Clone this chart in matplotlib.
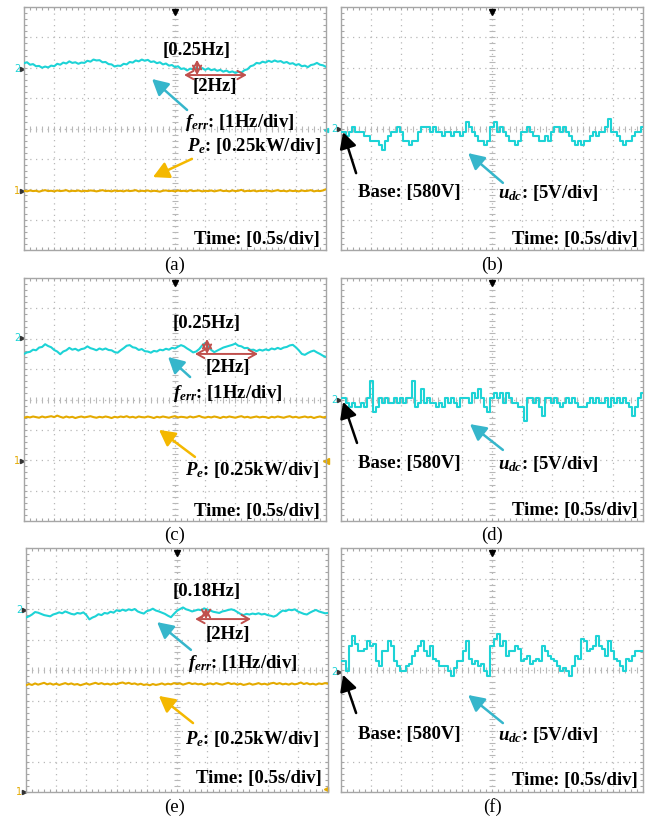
import matplotlib
matplotlib.use('Agg')
import matplotlib.pyplot as plt
import numpy as np

plt.rcParams['font.family'] = ['Liberation Serif', 'DejaVu Serif']
plt.rcParams['mathtext.fontset'] = 'custom'
plt.rcParams['mathtext.it'] = 'Liberation Serif:italic:bold'
plt.rcParams['mathtext.rm'] = 'Liberation Serif:bold'
plt.rcParams['mathtext.bf'] = 'Liberation Serif:bold'

# Traces, in screen divisions (0..8 from bottom), sampled evenly across 10 div
ferr_a = [6.15, 6.18, 6.10, 6.12, 6.05, 6.06, 6.00, 6.04, 6.01, 6.07,
          6.05, 6.13, 6.10, 6.17, 6.14, 6.21, 6.16, 6.18, 6.13, 6.17,
          6.16, 6.23, 6.20, 6.27, 6.24, 6.25, 6.18, 6.19, 6.12, 6.11,
          6.04, 6.07, 6.06, 6.13, 6.11, 6.19, 6.17, 6.24, 6.21, 6.27,
          6.23, 6.26, 6.19, 6.21, 6.15, 6.18, 6.11, 6.14, 6.07, 6.09,
          6.02, 6.05, 5.96, 5.98, 5.91, 5.97, 5.95, 6.00, 5.95, 5.99,
          5.93, 5.98, 5.92, 5.95, 5.90, 5.93, 5.87, 5.91, 5.85, 5.88,
          5.83, 5.87, 5.84, 5.92, 5.95, 6.05, 6.08, 6.16, 6.14, 6.20,
          6.17, 6.23, 6.19, 6.24, 6.20, 6.22, 6.16, 6.19, 6.13, 6.15,
          6.09, 6.12, 6.05, 6.07, 6.02, 6.09, 6.11, 6.16, 6.10, 6.08, 6.03]
pe_a = [1.95, 1.93, 1.96, 1.94, 1.95, 1.92, 1.95, 1.97, 1.94, 1.95,
        1.93, 1.96, 1.94, 1.95, 1.97, 1.93, 1.95, 1.94, 1.96, 1.93,
        1.95, 1.94, 1.96, 1.95, 1.93, 1.95, 1.97, 1.94, 1.95, 1.93,
        1.96, 1.94, 1.95, 1.93, 1.96, 1.94, 1.95, 1.97, 1.93, 1.95,
        1.94, 1.96, 1.93, 1.95, 1.94, 1.92, 1.95, 1.96, 1.94, 1.95,
        1.93, 1.96, 1.94, 1.95, 1.93, 1.97, 1.94, 1.95, 1.96, 1.93,
        1.95, 1.94, 1.96, 1.93, 1.95, 1.97, 1.94, 1.95, 1.93, 1.96,
        1.94, 1.95, 1.98, 1.93, 1.95, 1.94, 1.96, 1.93, 1.95, 1.94,
        1.96, 1.95, 1.93, 1.95, 1.97, 1.94, 1.95, 1.93, 1.96, 1.94,
        1.95, 1.93, 1.96, 1.94, 1.95, 1.97, 1.93, 1.95, 1.94, 1.96, 2.00]
udc_b = [3.9, 3.9, 3.75, 3.9, 4.05, 3.9, 3.9, 3.9, 3.75, 3.75,
         3.6, 3.6, 3.6, 3.45, 3.3, 3.6, 3.75, 3.9, 3.9, 4.05,
         3.9, 3.6, 3.6, 3.45, 3.6, 3.6, 3.9, 4.05, 4.05, 4.05,
         3.9, 4.05, 3.9, 3.9, 3.75, 3.9, 3.9, 3.75, 3.9, 3.9,
         3.75, 3.9, 4.2, 4.05, 3.9, 3.75, 3.6, 3.6, 3.45, 3.6,
         4.05, 4.2, 3.9, 4.05, 3.9, 3.75, 3.6, 3.6, 3.45, 3.6,
         3.9, 3.9, 4.05, 3.9, 3.75, 3.75, 3.6, 3.6, 3.75, 3.6,
         3.9, 4.05, 4.05, 3.9, 4.05, 3.9, 3.75, 3.6, 3.45, 3.6,
         3.45, 3.6, 3.6, 3.75, 3.9, 3.75, 3.9, 3.9, 4.05, 4.3,
         3.9, 3.9, 3.75, 3.6, 3.45, 3.6, 3.6, 3.75, 3.9, 3.9, 4.05]
ferr_c = [5.50, 5.55, 5.57, 5.64, 5.62, 5.71, 5.73, 5.82, 5.76, 5.72,
          5.63, 5.58, 5.49, 5.58, 5.62, 5.70, 5.64, 5.67, 5.61, 5.66,
          5.68, 5.75, 5.69, 5.66, 5.62, 5.68, 5.64, 5.68, 5.63, 5.62,
          5.56, 5.54, 5.62, 5.69, 5.77, 5.79, 5.72, 5.70, 5.63, 5.66,
          5.59, 5.58, 5.54, 5.60, 5.58, 5.64, 5.62, 5.67, 5.64, 5.70,
          5.68, 5.74, 5.79, 5.75, 5.68, 5.62, 5.55, 5.58, 5.66, 5.78,
          5.86, 5.74, 5.63, 5.56, 5.61, 5.66, 5.71, 5.74, 5.77, 5.80,
          5.84, 5.77, 5.75, 5.69, 5.70, 5.63, 5.64, 5.59, 5.64, 5.61,
          5.65, 5.62, 5.68, 5.65, 5.70, 5.66, 5.71, 5.73, 5.78, 5.80,
          5.72, 5.62, 5.50, 5.47, 5.53, 5.58, 5.61, 5.55, 5.50, 5.44, 5.40]
pe_c = [3.40, 3.43, 3.41, 3.44, 3.42, 3.40, 3.44, 3.41, 3.43, 3.45,
        3.42, 3.47, 3.43, 3.40, 3.44, 3.41, 3.43, 3.39, 3.42, 3.44,
        3.41, 3.43, 3.45, 3.42, 3.40, 3.43, 3.41, 3.44, 3.42, 3.39,
        3.43, 3.41, 3.44, 3.42, 3.45, 3.41, 3.43, 3.40, 3.44, 3.42,
        3.41, 3.44, 3.42, 3.39, 3.43, 3.41, 3.44, 3.42, 3.40, 3.43,
        3.45, 3.41, 3.43, 3.42, 3.40, 3.44, 3.41, 3.43, 3.46, 3.42,
        3.40, 3.43, 3.41, 3.44, 3.42, 3.39, 3.43, 3.41, 3.44, 3.42,
        3.40, 3.43, 3.45, 3.41, 3.43, 3.40, 3.42, 3.44, 3.41, 3.43,
        3.42, 3.39, 3.43, 3.41, 3.44, 3.42, 3.40, 3.43, 3.45, 3.41,
        3.43, 3.40, 3.42, 3.44, 3.41, 3.43, 3.39, 3.42, 3.44, 3.41, 3.43]
udc_d = [4.05, 4.05, 3.9, 3.75, 3.9, 3.75, 3.75, 3.9, 3.75, 4.05,
         4.6, 3.6, 3.75, 4.05, 3.9, 4.05, 3.9, 3.9, 4.05, 3.9,
         4.05, 3.9, 4.05, 4.05, 4.6, 3.75, 3.9, 4.35, 3.9, 4.05,
         3.9, 3.9, 3.75, 3.9, 3.75, 4.05, 3.9, 4.05, 3.9, 3.75,
         4.05, 4.05, 4.05, 3.9, 4.2, 4.05, 4.35, 4.05, 3.75, 3.6,
         4.05, 4.2, 4.05, 4.2, 3.9, 4.2, 4.05, 3.9, 3.9, 3.75,
         3.75, 3.3, 4.05, 4.05, 3.9, 4.05, 3.75, 3.45, 4.05, 4.05,
         3.9, 4.05, 3.9, 3.75, 3.9, 4.05, 3.9, 4.05, 3.9, 3.75,
         3.75, 3.75, 3.9, 4.05, 3.9, 4.05, 3.9, 3.9, 4.05, 3.75,
         4.05, 3.9, 4.05, 3.9, 4.05, 3.9, 3.75, 3.45, 3.75, 4.05, 4.2]
ferr_e = [5.72, 5.76, 5.82, 5.90, 5.88, 5.84, 5.80, 5.78, 5.76, 5.82,
          5.85, 5.89, 5.86, 5.92, 5.88, 5.84, 5.82, 5.87, 5.85, 5.89,
          5.80, 5.66, 5.72, 5.76, 5.83, 5.80, 5.87, 5.85, 5.91, 5.88,
          5.96, 5.93, 5.98, 5.94, 5.99, 5.96, 6.00, 5.92, 5.88, 5.85,
          5.93, 5.96, 6.01, 5.95, 5.92, 5.88, 5.84, 5.78, 5.73, 5.84,
          5.94, 6.00, 6.05, 5.99, 5.96, 5.92, 5.95, 5.98, 5.96, 6.02,
          5.98, 5.95, 5.91, 5.89, 5.87, 5.92, 5.94, 5.97, 5.99, 5.96,
          5.90, 5.84, 5.80, 5.84, 5.82, 5.85, 5.83, 5.86, 5.82, 5.84,
          5.80, 5.78, 5.75, 5.79, 5.88, 5.95, 5.93, 5.98, 5.96, 5.99,
          5.92, 5.88, 5.84, 5.82, 5.88, 5.93, 5.97, 5.92, 5.89, 5.86, 5.87]
pe_e = [3.50, 3.54, 3.51, 3.56, 3.52, 3.55, 3.58, 3.53, 3.56, 3.52,
        3.55, 3.51, 3.54, 3.57, 3.53, 3.56, 3.52, 3.54, 3.50, 3.53,
        3.56, 3.52, 3.55, 3.58, 3.54, 3.57, 3.53, 3.55, 3.52, 3.56,
        3.53, 3.57, 3.59, 3.55, 3.58, 3.54, 3.56, 3.52, 3.55, 3.51,
        3.53, 3.50, 3.54, 3.51, 3.53, 3.56, 3.52, 3.55, 3.53, 3.57,
        3.54, 3.56, 3.52, 3.55, 3.58, 3.54, 3.56, 3.53, 3.55, 3.51,
        3.54, 3.56, 3.53, 3.57, 3.54, 3.52, 3.55, 3.58, 3.54, 3.56,
        3.52, 3.55, 3.51, 3.53, 3.56, 3.52, 3.54, 3.57, 3.53, 3.55,
        3.52, 3.56, 3.58, 3.54, 3.57, 3.53, 3.55, 3.52, 3.56, 3.53,
        3.55, 3.59, 3.54, 3.57, 3.53, 3.55, 3.52, 3.56, 3.54, 3.57, 3.55]
udc_f = [4.28, 4.28, 3.96, 4.78, 5.10, 4.85, 4.61, 4.61, 4.70, 4.94,
         4.78, 4.85, 4.28, 4.12, 4.61, 4.61, 4.94, 4.78, 4.28, 4.12,
         3.96, 3.96, 4.12, 4.20, 4.45, 4.61, 4.78, 4.94, 4.61, 4.45,
         4.78, 4.37, 4.28, 4.12, 4.12, 4.12, 3.96, 3.80, 4.05, 4.28,
         4.28, 4.61, 4.94, 4.37, 4.20, 4.28, 4.12, 4.20, 3.96, 3.80,
         4.78, 5.02, 5.18, 4.78, 4.94, 4.45, 4.61, 4.61, 4.78, 4.70,
         4.28, 4.37, 4.45, 4.20, 4.28, 4.37, 4.28, 4.78, 4.61, 4.45,
         4.37, 4.28, 4.12, 3.96, 4.05, 3.96, 3.80, 4.12, 4.45, 4.37,
         5.02, 4.94, 4.61, 4.70, 4.78, 5.10, 4.78, 4.70, 4.45, 4.94,
         4.61, 4.37, 4.28, 4.12, 3.96, 4.37, 4.28, 4.45, 4.61, 4.61, 4.61]

panel_labels = ['(a)', '(b)', '(c)', '(d)', '(e)', '(f)']
amp_labels = ['[0.25Hz]', '[0.25Hz]', '[0.18Hz]']

CYAN = '#1dd3d6'
GOLD = '#e4aa00'
CYAN_ARROW = '#36b6cb'
GOLD_ARROW = '#f4b800'
RED = '#c0504d'
GRID = '#b8b8b8'
FS = 13.5

fig = plt.figure(figsize=(6.53, 8.19), dpi=100)
W, H = 653, 819


def make_ax(x0, y0, x1, y1):
    return fig.add_axes([x0 / W, 1 - y1 / H, (x1 - x0) / W, (y1 - y0) / H])


def scope(ax):
    ax.set_xlim(0, 10)
    ax.set_ylim(0, 8)
    for s in ax.spines.values():
        s.set_color('#a6a6a6')
        s.set_linewidth(1.0)
    ax.set_xticks(np.arange(0, 10.01, 0.2))
    ax.set_yticks(np.arange(0, 8.01, 0.2))
    ax.tick_params(direction='in', length=2.5, width=0.8, color='#a6a6a6',
                   top=True, right=True, labelbottom=False, labelleft=False)
    for gx in range(1, 10):
        ax.axvline(gx, color=GRID, lw=0.9, dashes=(1, 3.6), zorder=0)
    for gy in range(1, 8):
        ax.axhline(gy, color=GRID, lw=0.9, dashes=(1, 3.6), zorder=0)
    xs = np.arange(0.2, 10, 0.2)
    ys = np.arange(0.2, 8, 0.2)
    ax.plot(xs, np.full(len(xs), 4.0), ls='none', marker='|', ms=4, mew=0.8, color=GRID, zorder=0)
    ax.plot(np.full(len(ys), 5.0), ys, ls='none', marker='_', ms=4, mew=0.8, color=GRID, zorder=0)
    ax.plot(5, 7.83, marker='v', ms=5, color='k', clip_on=False, zorder=5)


def channel(ax, y, num, color):
    ax.text(-0.12, y, num, ha='right', va='center', color=color, fontsize=7,
            family='DejaVu Sans', clip_on=False)
    ax.plot(-0.05, y, marker='>', ms=3, color='#333333', clip_on=False)


def arrow(ax, tail, head, color):
    ax.annotate('', xy=head, xytext=tail,
                arrowprops=dict(arrowstyle='-|>,head_length=0.6,head_width=0.32',
                                color=color, lw=1.8, mutation_scale=16,
                                shrinkA=0, shrinkB=0))


def dbl(ax, p0, p1):
    ax.annotate('', xy=p1, xytext=p0,
                arrowprops=dict(arrowstyle='<->,head_length=0.45,head_width=0.25',
                                color=RED, lw=1.4, mutation_scale=12,
                                shrinkA=0, shrinkB=0))


def bold(ax, x, y, s, ha='left'):
    ax.text(x, y, s, ha=ha, va='center', fontsize=FS, fontweight='bold')


# panel rectangles in pixels (left, top, right, bottom)
rects = [(24, 7, 326, 250), (341, 7, 643, 250),
         (24, 278, 326, 521), (341, 278, 643, 521),
         (26, 548, 328, 792), (341, 548, 643, 792)]
label_pos = [(175, 265), (492, 265), (175, 535), (492, 535), (175, 807), (492, 807)]

axes = [make_ax(*r) for r in rects]
for ax in axes:
    scope(ax)

# ---- frequency / power panels ----
freq = [(ferr_a, pe_a), (ferr_c, pe_c), (ferr_e, pe_e)]
ch2_y = [5.96, 6.02, 5.97]
ch1_y = [1.95, 1.98, 0.0]
amp_xy = [(5.73, 6.58), (6.06, 6.49), (5.99, 6.56)]
hz_xy = [(6.32, 5.37), (6.75, 5.04), (6.69, 5.15)]
harr = [((5.30, 5.76), (7.38, 5.76)), ((5.66, 5.50), (7.75, 5.50)), ((5.60, 5.67), (7.45, 5.67))]
varr = [((5.73, 5.76), (5.73, 6.26)), ((6.06, 5.50), (6.06, 5.99)), ((5.96, 5.67), (5.96, 6.03))]
ferr_xy = [(5.33, 4.21), (4.93, 4.21), (5.36, 4.20)]
pe_xy = [(5.40, 3.42), (5.33, 1.68), (5.26, 1.74)]
c_arr = [((5.40, 4.61), (4.24, 5.63)), ((5.50, 4.74), (4.77, 5.40)), ((5.46, 4.66), (4.34, 5.57))]
g_arr = [((5.56, 3.00), (4.27, 2.40)), ((5.66, 2.11), (4.47, 3.00)), ((5.53, 2.26), (4.40, 3.15))]
time_y = [0.36, 0.30, 0.43]

for k in range(3):
    ax = axes[2 * k]
    fe, pe = freq[k]
    ax.plot(np.linspace(0, 10, len(pe)), pe, color=GOLD, lw=1.5, zorder=3)
    ax.plot(np.linspace(0, 10, len(fe)), fe, color=CYAN, lw=1.5, zorder=3)
    channel(ax, ch2_y[k], '2', CYAN)
    channel(ax, ch1_y[k], '1', GOLD)
    bold(ax, *amp_xy[k], amp_labels[k], ha='center')
    bold(ax, *hz_xy[k], '[2Hz]', ha='center')
    dbl(ax, *harr[k])
    dbl(ax, *varr[k])
    bold(ax, *ferr_xy[k], r'$f_{err}$: [1Hz/div]')
    bold(ax, *pe_xy[k], r'$P_e$: [0.25kW/div]')
    arrow(ax, *c_arr[k], CYAN_ARROW)
    arrow(ax, *g_arr[k], GOLD_ARROW)
    bold(ax, 9.8, time_y[k], 'Time: [0.5s/div]', ha='right')

axes[0].plot(10.0, 3.95, marker='<', ms=3, color=CYAN, clip_on=False)
axes[2].plot(10.0, 1.98, marker='<', ms=4, color=GOLD, clip_on=False)
axes[4].plot(9.95, 0.1, marker='<', ms=3, color=GOLD, clip_on=False)

# ---- dc voltage panels ----
volt = [udc_b, udc_d, udc_f]
vch_y = [4.0, 3.98, 3.93]
base_y = [1.88, 1.88, 1.87]
k_arr = [((0.50, 2.53), (0.07, 3.88)), ((0.53, 2.57), (0.07, 3.92)), ((0.50, 2.59), (0.07, 3.84))]
u_arr = [((5.36, 2.21), (4.21, 3.19)), ((5.36, 2.34), (4.27, 3.19)), ((5.36, 2.26), (4.21, 3.18))]
vtime_y = [0.36, 0.33, 0.39]

for k in range(3):
    ax = axes[2 * k + 1]
    u = volt[k]
    ax.plot(np.linspace(0, 10, len(u)), u, color=CYAN, lw=1.5, drawstyle='steps-mid', zorder=3)
    channel(ax, vch_y[k], '2', CYAN)
    bold(ax, 0.56, base_y[k], 'Base: [580V]')
    bold(ax, 5.20, base_y[k], r'$u_{dc}$: [5V/div]')
    arrow(ax, *k_arr[k], 'black')
    arrow(ax, *u_arr[k], CYAN_ARROW)
    bold(ax, 9.83, vtime_y[k], 'Time: [0.5s/div]', ha='right')

for lab, (px, py) in zip(panel_labels, label_pos):
    fig.text(px / W, 1 - py / H, lab, ha='center', va='center', fontsize=FS)

fig.savefig('out.png', dpi=100)
